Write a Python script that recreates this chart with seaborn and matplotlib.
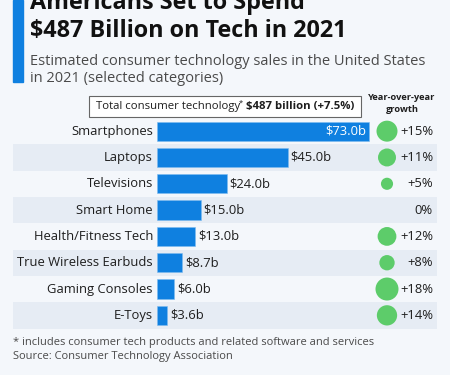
import matplotlib
matplotlib.use("Agg")
import matplotlib.pyplot as plt
import matplotlib.transforms as mtransforms
from matplotlib.patches import Rectangle
import seaborn as sns
import pandas as pd

categories = ["Smartphones", "Laptops", "Televisions", "Smart Home",
              "Health/Fitness Tech", "True Wireless Earbuds", "Gaming Consoles", "E-Toys"]
sales = [73.0, 45.0, 24.0, 15.0, 13.0, 8.7, 6.0, 3.6]
growth = [15, 11, 5, 0, 12, 8, 18, 14]
value_labels = ["$73.0b", "$45.0b", "$24.0b", "$15.0b", "$13.0b", "$8.7b", "$6.0b", "$3.6b"]
growth_labels = ["+15%", "+11%", "+5%", "0%", "+12%", "+8%", "+18%", "+14%"]

df = pd.DataFrame({"category": categories, "sales": sales, "growth": growth})

sns.set_theme(style="white")
FONT = ["Open Sans", "DejaVu Sans"]
plt.rcParams["font.family"] = FONT

BG = "#f4f7fb"
BAND = "#e6ecf4"
BLUE = "#0f80e0"
GREEN = "#5dcc6a"
DARK = "#1e1e1e"
GRAY = "#4a4a4a"

W, H = 450, 375
fig = plt.figure(figsize=(W / 100, H / 100), dpi=100, facecolor=BG)

def fy(py):
    return 1 - py / H

def fx(px):
    return px / W

# axes in pixel layout
ax_l, ax_r, ax_t, ax_b = 13, 437, 118, 328.5
ax = fig.add_axes([fx(ax_l), fy(ax_b), fx(ax_r - ax_l), (ax_b - ax_t) / H])
ax.set_facecolor(BG)

bar0_px, bar73_px = 157, 369
ppu = (bar73_px - bar0_px) / max(sales)
xmin = -(bar0_px - ax_l) / ppu
xmax = (ax_r - bar0_px) / ppu

for i in range(1, len(categories), 2):
    ax.axhspan(i - 0.5, i + 0.5, facecolor=BAND, edgecolor="none", zorder=0, lw=0)

sns.barplot(data=df, x="sales", y="category", orient="h", color=BLUE,
            width=0.73, saturation=1, ax=ax, zorder=2)
for bar in ax.containers[0]:
    bar.set_edgecolor("#7fbcef")
    bar.set_linewidth(0.4)

ax.set_xlim(xmin, xmax)
ax.set_ylim(len(categories) - 0.5, -0.5)
ax.set_axis_off()

px = 72 / 100  # points per pixel

# category labels
lab_tr = mtransforms.offset_copy(ax.transData, fig=fig, x=-4 * px, y=0, units="points")
for i, c in enumerate(categories):
    ax.text(0, i, c, transform=lab_tr, ha="right", va="center", fontsize=9.4, color=DARK)

# value labels
out_tr = mtransforms.offset_copy(ax.transData, fig=fig, x=3 * px, y=0, units="points")
in_tr = mtransforms.offset_copy(ax.transData, fig=fig, x=-3 * px, y=0, units="points")
for i, (v, lbl) in enumerate(zip(sales, value_labels)):
    if i == 0:
        ax.text(v, i, lbl, transform=in_tr, ha="right", va="center", fontsize=9.4, color="white")
    else:
        ax.text(v, i, lbl, transform=out_tr, ha="left", va="center", fontsize=9.4, color=DARK)

# growth circles (area proportional to growth)
circle_x = (387 - bar0_px) / ppu
max_d_px = 23
smax = (max_d_px * px) ** 2
sizes = [smax * g / max(growth) for g in growth]
ax.scatter([circle_x] * len(growth), range(len(growth)), s=sizes, color=GREEN,
           linewidths=0, zorder=3, clip_on=False)
gl_x = (433 - bar0_px) / ppu
for i, g in enumerate(growth_labels):
    ax.text(gl_x, i, g, ha="right", va="center", fontsize=9.4, color=DARK, zorder=4)

# title block
fig.patches.append(Rectangle((fx(13), fy(82)), fx(10), 82 / H, transform=fig.transFigure,
                             color=BLUE, zorder=1))
fig.text(fx(30), fy(9), "Americans Set to Spend", fontsize=16.8, fontweight="bold",
         color="#111111", va="baseline", ha="left")
fig.text(fx(30), fy(37.5), "$487 Billion on Tech in 2021", fontsize=16.8, fontweight="bold",
         color="#111111", va="baseline", ha="left")
fig.text(fx(30), fy(65), "Estimated consumer technology sales in the United States",
         fontsize=10.5, color=GRAY, va="baseline", ha="left")
fig.text(fx(30), fy(82), "in 2021 (selected categories)",
         fontsize=10.5, color=GRAY, va="baseline", ha="left")

# total box
fig.patches.append(Rectangle((fx(89), fy(117)), fx(361 - 89), 21 / H, transform=fig.transFigure,
                             facecolor="white", edgecolor="#666666", lw=0.8, zorder=1))
fig.text(fx(96), fy(107), "Total consumer technology", fontsize=8.2, color=DARK,
         va="center", ha="left")
fig.text(fx(239), fy(103), "*", fontsize=5.5, color=DARK, va="center", ha="left")
fig.text(fx(354), fy(107), "$487 billion (+7.5%)", fontsize=8.2, color=DARK,
         fontweight="bold", va="center", ha="right")
fig.text(fx(402), fy(98), "Year-over-year", fontsize=6.7, color=DARK, fontweight="bold",
         va="center", ha="center")
fig.text(fx(402), fy(110), "growth", fontsize=6.7, color=DARK, fontweight="bold",
         va="center", ha="center")

# footer
fig.text(fx(13), fy(342), "* includes consumer tech products and related software and services",
         fontsize=8.0, color=GRAY, va="center", ha="left")
fig.text(fx(13), fy(357), "Source: Consumer Technology Association",
         fontsize=8.0, color=GRAY, va="center", ha="left")

fig.savefig("out.png", dpi=100, facecolor=BG)
